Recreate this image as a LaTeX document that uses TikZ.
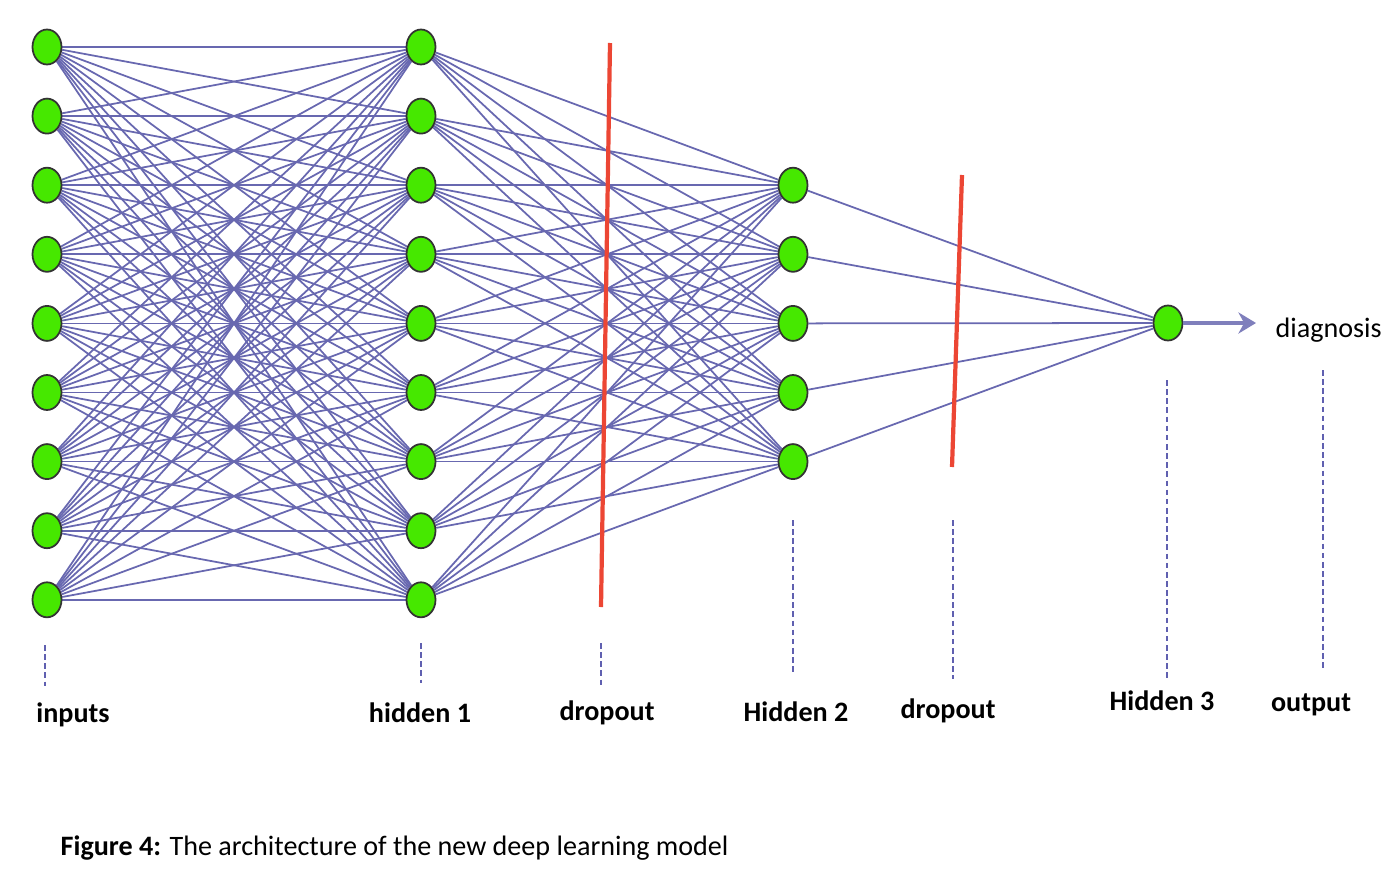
\documentclass[tikz,border=0pt]{standalone}
\usepackage{fontspec}
\setmainfont{Carlito}
\usepackage{tikz}
\usetikzlibrary{shapes,arrows.meta}
\definecolor{lgreen}{RGB}{70,232,0}
\definecolor{wire}{RGB}{104,104,176}
\definecolor{lred}{RGB}{236,70,52}
\definecolor{dash}{RGB}{96,96,176}
\tikzstyle{neuron}=[ellipse,fill=lgreen,draw=black!80,line width=0.5,minimum width=0.29cm,minimum height=0.35cm,inner sep=0pt]
\tikzstyle{none}=[inner sep=0pt]
\tikzstyle{weight}=[-,draw=wire,line width=0.5]
\tikzstyle{cutline}=[-,draw=lred,line width=1.2]
\tikzstyle{guide}=[-,draw=dash,line width=0.6,dash pattern=on 1.6pt off 1pt]
\tikzstyle{outarrow}=[-{Stealth[length=5pt,width=6pt]},draw=wire!85,line width=1.0]
\tikzstyle{layername}=[anchor=base,inner sep=0pt,font=\bfseries\fontsize{8.0}{10}\selectfont]
\pgfdeclarelayer{edgelayer}
\pgfdeclarelayer{nodelayer}
\pgfsetlayers{edgelayer,nodelayer,main}
\begin{document}
\begin{tikzpicture}
	\useasboundingbox (0,0) rectangle (14,8.88);
	\begin{pgfonlayer}{nodelayer}
		% input and hidden 1 columns
		\foreach \i in {1,...,9} {
			\node [style=neuron] (in\i) at (0.47, 8.41-0.691*\i+0.691) {};
			\node [style=neuron] (ha\i) at (4.21, 8.41-0.691*\i+0.691) {};
		}
		% hidden 2 column
		\foreach \j in {3,...,7} {
			\node [style=neuron] (hb\j) at (7.93, 8.41-0.691*\j+0.691) {};
		}
		\node [style=neuron] (hc) at (11.68, 5.65) {};
		\node [style=none] (tip) at (12.56, 5.65) {};
		\node [anchor=base west, inner sep=0pt, font=\fontsize{8.0}{10}\selectfont] (diag) at (12.75, 5.51) {diagnosis};

		% dropout cuts
		\node [style=none] (cutAt) at (6.10, 8.45) {};
		\node [style=none] (cutAb) at (6.01, 2.81) {};
		\node [style=none] (cutBt) at (9.62, 7.13) {};
		\node [style=none] (cutBb) at (9.52, 4.21) {};

		% guides and layer names
		\node [style=none] (gInT) at (0.45, 2.43) {};
		\node [style=none] (gInB) at (0.45, 2.02) {};
		\node [style=none] (gHaT) at (4.21, 2.45) {};
		\node [style=none] (gHaB) at (4.21, 2.05) {};
		\node [style=none] (gDaT) at (6.01, 2.45) {};
		\node [style=none] (gDaB) at (6.01, 2.02) {};
		\node [style=none] (gHbT) at (7.93, 3.68) {};
		\node [style=none] (gHbB) at (7.93, 2.13) {};
		\node [style=none] (gDbT) at (9.53, 3.68) {};
		\node [style=none] (gDbB) at (9.53, 2.09) {};
		\node [style=none] (gHcT) at (11.67, 5.08) {};
		\node [style=none] (gHcB) at (11.67, 2.07) {};
		\node [style=none] (gOuT) at (13.23, 5.18) {};
		\node [style=none] (gOuB) at (13.23, 2.18) {};

		\node [style=layername] (tIn) at (0.73, 1.66) {inputs};
		\node [style=layername] (tHa) at (4.20, 1.66) {hidden 1};
		\node [style=layername] (tDa) at (6.07, 1.68) {dropout};
		\node [style=layername] (tHb) at (7.96, 1.67) {Hidden 2};
		\node [style=layername] (tDb) at (9.48, 1.70) {dropout};
		\node [style=layername] (tHc) at (11.62, 1.78) {Hidden 3};
		\node [style=layername] (tOu) at (13.11, 1.77) {output};

		\node [anchor=base west, inner sep=0pt, font=\fontsize{8.0}{10}\selectfont] (cap) at (0.60, 0.33) {\textbf{Figure 4:} The architecture of the new deep learning model};
	\end{pgfonlayer}
	\begin{pgfonlayer}{edgelayer}
		\foreach \i in {1,...,9} {
			\foreach \k in {1,...,9} {
				\draw [style=weight] (in\i) to (ha\k);
			}
			\foreach \j in {3,...,7} {
				\draw [style=weight] (ha\i) to (hb\j);
			}
		}
		\foreach \j in {3,...,7} {
			\draw [style=weight] (hb\j) to (hc);
		}
	\end{pgfonlayer}
	\draw [style=outarrow] (hc) to (tip.center);
	\draw [style=cutline] (cutAt.center) to (cutAb.center);
	\draw [style=cutline] (cutBt.center) to (cutBb.center);
	\draw [style=guide] (gInT.center) to (gInB.center);
	\draw [style=guide] (gHaT.center) to (gHaB.center);
	\draw [style=guide] (gDaT.center) to (gDaB.center);
	\draw [style=guide] (gHbT.center) to (gHbB.center);
	\draw [style=guide] (gDbT.center) to (gDbB.center);
	\draw [style=guide] (gHcT.center) to (gHcB.center);
	\draw [style=guide] (gOuT.center) to (gOuB.center);
\end{tikzpicture}
\end{document}
